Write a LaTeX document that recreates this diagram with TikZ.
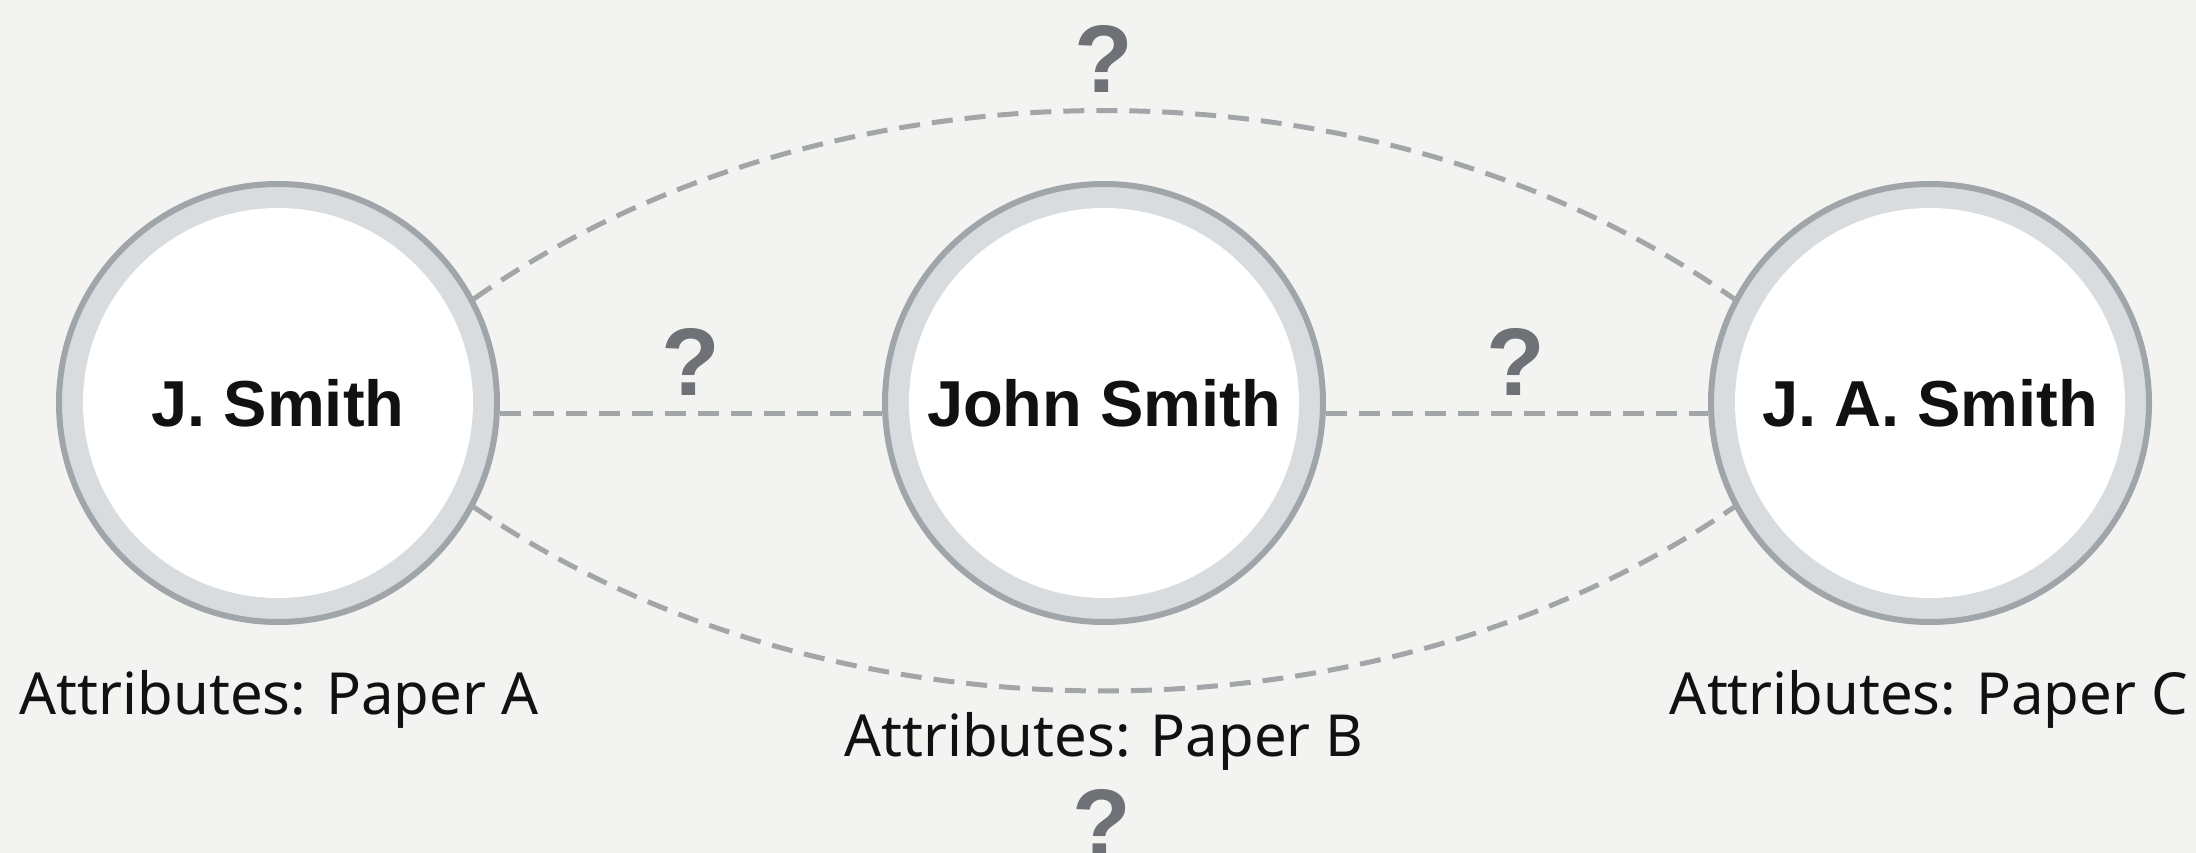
\documentclass[tikz,border=0pt]{standalone}
\usepackage{fontspec}
\setmainfont{Noto Sans}
\newfontfamily\boldfam{Liberation Sans}
\definecolor{bgc}{HTML}{F3F3F1}
\definecolor{rimc}{HTML}{A0A5AA}
\definecolor{ringc}{HTML}{D8DCDF}
\definecolor{linec}{HTML}{A3A6A9}
\definecolor{qc}{HTML}{6E7276}
\definecolor{txtc}{HTML}{111111}
\tikzset{
  person/.style={circle, minimum size=438pt, inner sep=0pt, fill=ringc, draw=rimc, line width=6pt,
    path picture={\fill[white] (path picture bounding box.center) circle (195pt);},
    font=\boldfam\bfseries\fontsize{65}{78}\selectfont, text=txtc, text height=47pt, text depth=0pt},
  attr/.style={anchor=base, font=\fontsize{58}{70}\selectfont, text=txtc, inner sep=0pt},
  qmark/.style={anchor=base, font=\boldfam\bfseries\fontsize{96}{110}\selectfont, text=qc, inner sep=0pt},
  link/.style={draw=linec, line width=5pt, dash pattern=on 21pt off 12pt}
}
\begin{document}
\begin{tikzpicture}[x=1pt,y=-1pt]
\fill[bgc] (0,0) rectangle (2196,853);
\useasboundingbox (0,0) rectangle (2196,853);
\node[person] (a) at (278,403) {J. Smith};
\node[person] (b) at (1104,403) {John Smith};
\node[person] (c) at (1930,403) {J. A. Smith};
\draw[link] ([yshift=-10pt]a.east) -- ([yshift=-10pt]b.west);
\draw[link] ([yshift=-10pt]b.east) -- ([yshift=-10pt]c.west);
\draw[link] (a.28) .. controls +(357,-251) and +(-357,-251) .. (c.152);
\draw[link] (a.-28) .. controls +(357,245) and +(-357,245) .. (c.-152);
\node[qmark] (q1) at (1104,93) {?};
\node[qmark] (q2) at (691,395) {?};
\node[qmark] (q3) at (1516,395) {?};
\node[qmark] (q4) at (1102,856) {?};
\node[attr] (la) at (279,714) {Attributes: Paper A};
\node[attr] (lb) at (1104,756) {Attributes: Paper B};
\node[attr] (lc) at (1929,714) {Attributes: Paper C};
\end{tikzpicture}
\end{document}
